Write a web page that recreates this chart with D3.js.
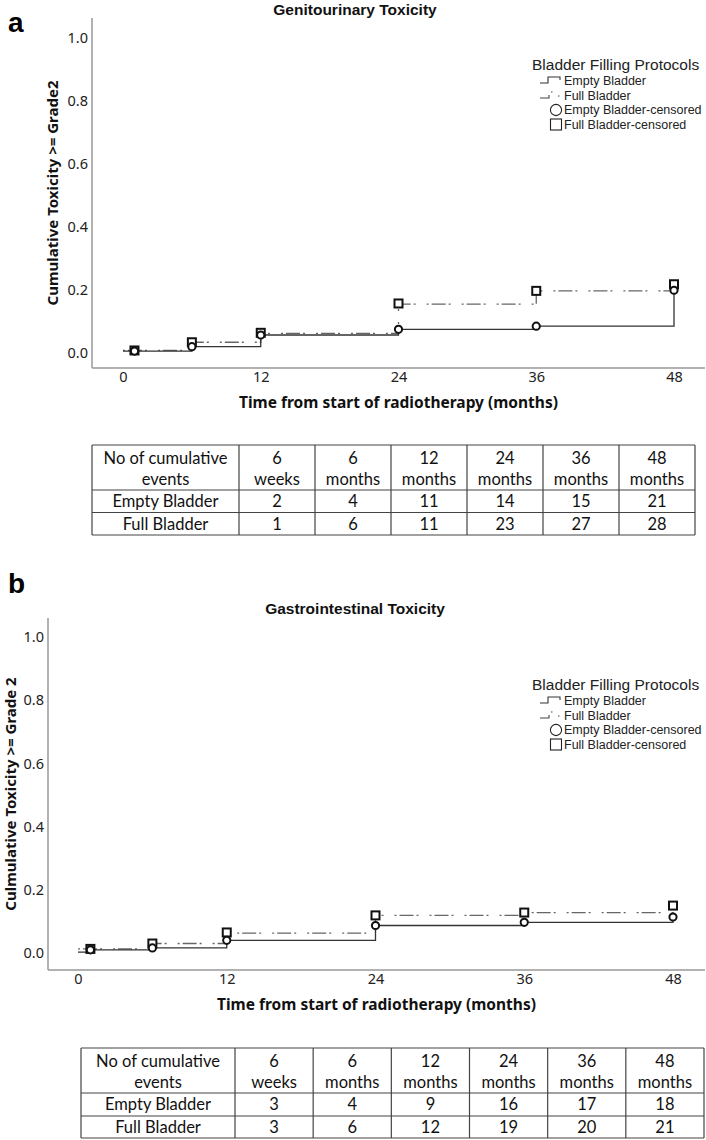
<!DOCTYPE html>
<html><head><meta charset="utf-8">
<script src="https://cdn.jsdelivr.net/npm/d3@7"></script>
<style>body{margin:0;background:#fff}svg{display:block}</style>
</head><body>
<svg id="c" width="706" height="1140"></svg>
<script>
// ---- data ----
const stepTimes = [0, 1, 6, 12, 24, 36, 48];
const censorTimes = [1, 6, 12, 24, 36, 48];
const xTicks = [0, 12, 24, 36, 48];
const yTicks = [0, 0.2, 0.4, 0.6, 0.8, 1.0];
// Genitourinary
const guEmpty = [0.007, 0.007, 0.021, 0.058, 0.076, 0.086, 0.203];
const guFull = [0.009, 0.009, 0.035, 0.063, 0.156, 0.198, 0.219];
const guEmptyCens = [0.007, 0.021, 0.058, 0.076, 0.086, 0.2];
const guFullCens = [0.009, 0.035, 0.065, 0.158, 0.198, 0.219];
// Gastrointestinal
const giEmpty = [0.003, 0.01, 0.016, 0.04, 0.087, 0.097, 0.114];
const giFull = [0.013, 0.013, 0.03, 0.063, 0.119, 0.128, 0.15];
const giEmptyCens = [0.01, 0.016, 0.04, 0.087, 0.097, 0.114];
const giFullCens = [0.013, 0.03, 0.065, 0.119, 0.128, 0.15];
// legend
const legendTitle = "Bladder Filling Protocols";
const legendItems = ["Empty Bladder", "Full Bladder", "Empty Bladder-censored", "Full Bladder-censored"];
// tables
const tableHeader = [["No of cumulative", "events"], ["6", "weeks"], ["6", "months"], ["12", "months"], ["24", "months"], ["36", "months"], ["48", "months"]];
const rowLabels = ["Empty Bladder", "Full Bladder"];
const guEmptyEvents = [2, 4, 11, 14, 15, 21];
const guFullEvents = [1, 6, 11, 23, 27, 28];
const giEmptyEvents = [3, 4, 9, 16, 17, 18];
const giFullEvents = [3, 6, 12, 19, 20, 21];

const svg = d3.select("#c");
const FONT = "'Noto Sans', 'DejaVu Sans', sans-serif";
const LFONT = "'Liberation Sans', Arial, sans-serif";
const TFONT = "Lato, 'Open Sans', sans-serif";

function panel(cfg) {
  const g = svg.append("g");
  const x = d3.scaleLinear().domain([0, 48]).range(cfg.xr);
  const y = d3.scaleLinear().domain([0, 1]).range(cfg.yr);
  // panel letter
  g.append("text").attr("x", 8).attr("y", cfg.letterY).text(cfg.letter)
    .attr("font-family", LFONT).attr("font-weight", "bold")
    .attr("font-size", 28).attr("fill", "#000");
  // title
  g.append("text").attr("x", 355).attr("y", cfg.titleY).attr("text-anchor", "middle")
    .attr("font-family", LFONT).attr("font-weight", "bold").attr("font-size", 15.5).attr("fill", "#111").text(cfg.title);
  // frame lines
  g.append("line").attr("x1", cfg.axX).attr("x2", cfg.axX).attr("y1", cfg.axTop).attr("y2", cfg.axY)
    .attr("stroke", "#999").attr("stroke-width", 1.5);
  g.append("line").attr("x1", cfg.axX).attr("x2", 705).attr("y1", cfg.axY).attr("y2", cfg.axY)
    .attr("stroke", "#999").attr("stroke-width", 1.5);
  // y axis labels
  const ya = g.append("g").attr("transform", `translate(${cfg.axX - 4},0)`)
    .call(d3.axisLeft(y).tickValues(yTicks).tickFormat(d3.format(".1f")).tickSize(0).tickPadding(0));
  ya.select(".domain").remove();
  ya.selectAll("text").attr("font-family", FONT).attr("font-size", 14.5).attr("fill", "#222");
  // x axis labels
  const xa = g.append("g").attr("transform", `translate(0,${cfg.axY + 4})`)
    .call(d3.axisBottom(x).tickValues(xTicks).tickFormat(d3.format("d")).tickSize(0).tickPadding(0));
  xa.select(".domain").remove();
  xa.selectAll("text").attr("font-family", FONT).attr("font-size", 14.5).attr("fill", "#222");
  // axis titles
  g.append("text").attr("x", (cfg.axX + 705) / 2).attr("y", cfg.axY + 40).attr("text-anchor", "middle")
    .attr("font-family", FONT).attr("font-weight", "bold").attr("font-size", 15.5).attr("fill", "#111")
    .text("Time from start of radiotherapy (months)");
  g.append("text").attr("transform", `translate(${cfg.yTitleX},${(cfg.axTop + cfg.axY) / 2}) rotate(-90)`)
    .attr("text-anchor", "middle").attr("font-family", FONT).attr("font-weight", "bold")
    .attr("font-size", 15).attr("fill", "#111").text(cfg.yTitle);
  // step lines
  const line = d3.line().x(d => x(d[0])).y(d => y(d[1])).curve(d3.curveStepAfter);
  g.append("path").datum(stepTimes.map((t, i) => [t, cfg.full[i]])).attr("d", line)
    .attr("fill", "none").attr("stroke", "#666").attr("stroke-width", 1.3)
    .attr("stroke-dasharray", "2,3,14,3,2,11");
  g.append("path").datum(stepTimes.map((t, i) => [t, cfg.empty[i]])).attr("d", line)
    .attr("fill", "none").attr("stroke", "#333").attr("stroke-width", 1.3);
  // censor marks
  g.selectAll(".sq").data(censorTimes.map((t, i) => [t, cfg.fullC[i]])).join("rect")
    .attr("x", d => x(d[0]) - 4).attr("y", d => y(d[1]) - 4).attr("width", 8).attr("height", 8)
    .attr("fill", "#fff").attr("stroke", "#111").attr("stroke-width", 2);
  g.selectAll(".ci").data(censorTimes.map((t, i) => [t, cfg.emptyC[i]])).join("circle")
    .attr("cx", d => x(d[0])).attr("cy", d => y(d[1])).attr("r", 3.6)
    .attr("fill", "#fff").attr("stroke", "#111").attr("stroke-width", 2);
  // legend
  const L = g.append("g").attr("transform", `translate(0,${cfg.legY})`);
  L.append("text").attr("x", 532).attr("y", 0).attr("font-family", LFONT).attr("font-size", 15.5)
    .attr("fill", "#222").text(legendTitle);
  const ly = [15, 30, 44, 59];
  legendItems.forEach((t, i) => {
    L.append("text").attr("x", 564).attr("y", ly[i]).attr("font-family", LFONT).attr("font-size", 12.5)
      .attr("fill", "#222").text(t);
  });
  L.append("path").attr("d", `M540,${ly[0] - 2}H548V${ly[0] - 8}H560V${ly[0] - 5}`)
    .attr("fill", "none").attr("stroke", "#333").attr("stroke-width", 1.1);
  L.append("path").attr("d", `M540,${ly[1] - 2}H549V${ly[1] - 5}`)
    .attr("fill", "none").attr("stroke", "#444").attr("stroke-width", 1.1);
  L.append("path").attr("d", `M551,${ly[1] - 8}h1.5M558,${ly[1] - 4}h1.5`)
    .attr("fill", "none").attr("stroke", "#444").attr("stroke-width", 1.1);
  L.append("circle").attr("cx", 556).attr("cy", ly[2] - 4).attr("r", 5.6)
    .attr("fill", "none").attr("stroke", "#222").attr("stroke-width", 1.1);
  L.append("rect").attr("x", 550.5).attr("y", ly[3] - 10).attr("width", 11).attr("height", 11)
    .attr("fill", "none").attr("stroke", "#222").attr("stroke-width", 1.1);
}

function table(cfg) {
  const g = svg.append("g");
  const cols = [cfg.left, cfg.firstDiv];
  const cw = (cfg.right - cfg.firstDiv) / 6;
  for (let i = 1; i <= 6; i++) cols.push(cfg.firstDiv + cw * i);
  const rows = cfg.rows;
  const stroke = "#444";
  rows.forEach(r => g.append("line").attr("x1", cfg.left).attr("x2", cfg.right).attr("y1", r).attr("y2", r)
    .attr("stroke", stroke).attr("stroke-width", 1.2));
  cols.forEach(c => g.append("line").attr("x1", c).attr("x2", c).attr("y1", rows[0]).attr("y2", rows[3])
    .attr("stroke", stroke).attr("stroke-width", 1.2));
  const cx = i => (cols[i] + cols[i + 1]) / 2;
  // y given as visual centre; baseline = centre + ~0.36em
  const fs = 16.5;
  const txt = (xx, yy, s) => g.append("text").attr("x", xx).attr("y", yy + fs * 0.36).attr("text-anchor", "middle")
    .attr("font-family", TFONT).attr("font-size", fs).attr("fill", "#111").text(s);
  tableHeader.forEach((h, i) => {
    txt(cx(i), rows[0] + 13, h[0]);
    txt(cx(i), rows[0] + 34, h[1]);
  });
  const data = [cfg.emptyEv, cfg.fullEv];
  data.forEach((arr, r) => {
    const yy = (rows[r + 1] + rows[r + 2]) / 2;
    txt(cx(0), yy, rowLabels[r]);
    arr.forEach((v, i) => txt(cx(i + 1), yy, v));
  });
}

panel({letter: "a", letterY: 32, title: "Genitourinary Toxicity", titleY: 15,
  xr: [123, 674], yr: [353.3, 38], axX: 92, axTop: 18, axY: 368, yTitleX: 58,
  yTitle: "Cumulative Toxicity >= Grade2",
  empty: guEmpty, full: guFull, emptyC: guEmptyCens, fullC: guFullCens, legY: 70});
table({left: 92, firstDiv: 239, right: 695, rows: [445, 490, 512.5, 535],
  emptyEv: guEmptyEvents, fullEv: guFullEvents});

panel({letter: "b", letterY: 593, title: "Gastrointestinal Toxicity", titleY: 614,
  xr: [78, 673], yr: [953, 637], axX: 48, axTop: 618, axY: 970, yTitleX: 16,
  yTitle: "Culmulative Toxicity >= Grade 2",
  empty: giEmpty, full: giFull, emptyC: giEmptyCens, fullC: giFullCens, legY: 690});
table({left: 81, firstDiv: 235, right: 704, rows: [1048, 1093, 1116, 1138],
  emptyEv: giEmptyEvents, fullEv: giFullEvents});
</script>
</body></html>
